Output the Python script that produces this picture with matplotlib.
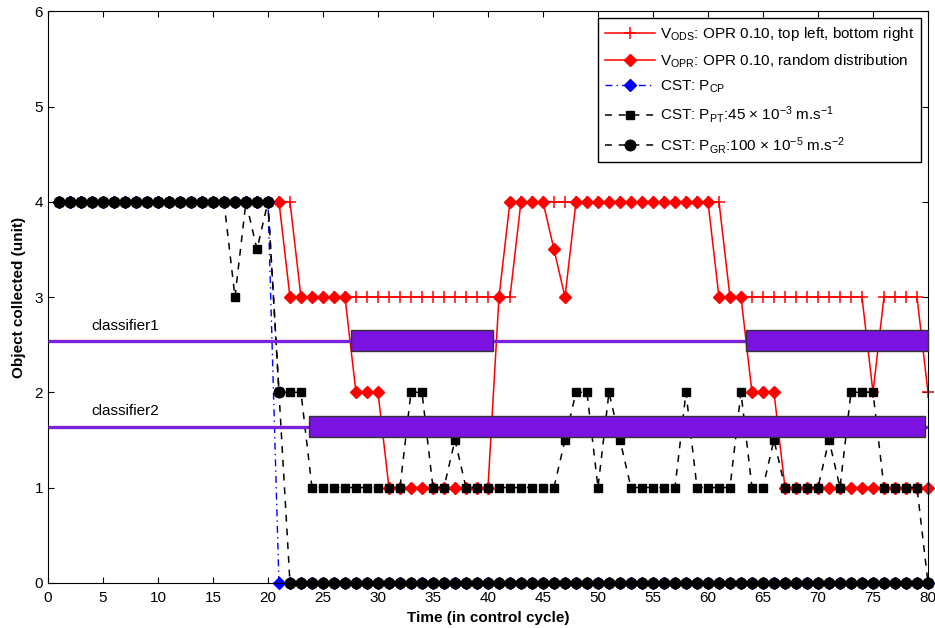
import numpy as np
import matplotlib
matplotlib.use("Agg")
import matplotlib.pyplot as plt

plt.rcParams['font.family'] = ['Liberation Sans', 'DejaVu Sans']
plt.rcParams['mathtext.fontset'] = 'custom'
plt.rcParams['mathtext.rm'] = 'Liberation Sans'
plt.rcParams['mathtext.it'] = 'Liberation Sans:italic'
plt.rcParams['mathtext.bf'] = 'Liberation Sans:bold'
plt.rcParams['font.size'] = 11

# control cycles
t = np.arange(1, 81)

# V_ODS: OPR 0.10, top left, bottom right
v_ods = [4, 4, 4, 4, 4, 4, 4, 4, 4, 4, 4, 4, 4, 4, 4, 4, 4, 4, 4, 4,
         4, 4, 3, 3, 3, 3, 3, 3, 3, 3, 3, 3, 3, 3, 3, 3, 3, 3, 3, 3,
         3, 3, 4, 4, 4, 4, 4, 4, 4, 4, 4, 4, 4, 4, 4, 4, 4, 4, 4, 4,
         4, 3, 3, 3, 3, 3, 3, 3, 3, 3, 3, 3, 3, 3, 2, 3, 3, 3, 3, 2]
# V_OPR: OPR 0.10, random distribution
v_opr = [4, 4, 4, 4, 4, 4, 4, 4, 4, 4, 4, 4, 4, 4, 4, 4, 4, 4, 4, 4,
         4, 3, 3, 3, 3, 3, 3, 2, 2, 2, 1, 1, 1, 1, 1, 1, 1, 1, 1, 1,
         3, 4, 4, 4, 4, 3.5, 3, 4, 4, 4, 4, 4, 4, 4, 4, 4, 4, 4, 4, 4,
         3, 3, 3, 2, 2, 2, 1, 1, 1, 1, 1, 1, 1, 1, 1, 1, 1, 1, 1, 1]
# CST: P_CP
p_cp = [4, 4, 4, 4, 4, 4, 4, 4, 4, 4, 4, 4, 4, 4, 4, 4, 4, 4, 4, 4,
        0, 0, 0, 0, 0, 0, 0, 0, 0, 0, 0, 0, 0, 0, 0, 0, 0, 0, 0, 0,
        0, 0, 0, 0, 0, 0, 0, 0, 0, 0, 0, 0, 0, 0, 0, 0, 0, 0, 0, 0,
        0, 0, 0, 0, 0, 0, 0, 0, 0, 0, 0, 0, 0, 0, 0, 0, 0, 0, 0, 0]
# CST: P_PT
p_pt = [4, 4, 4, 4, 4, 4, 4, 4, 4, 4, 4, 4, 4, 4, 4, 4, 3, 4, 3.5, 4,
        2, 2, 2, 1, 1, 1, 1, 1, 1, 1, 1, 1, 2, 2, 1, 1, 1.5, 1, 1, 1,
        1, 1, 1, 1, 1, 1, 1.5, 2, 2, 1, 2, 1.5, 1, 1, 1, 1, 1, 2, 1, 1,
        1, 1, 2, 1, 1, 1.5, 1, 1, 1, 1, 1.5, 1, 2, 2, 2, 1, 1, 1, 1, 0]
# CST: P_GR
p_gr = [4, 4, 4, 4, 4, 4, 4, 4, 4, 4, 4, 4, 4, 4, 4, 4, 4, 4, 4, 4,
        2, 0, 0, 0, 0, 0, 0, 0, 0, 0, 0, 0, 0, 0, 0, 0, 0, 0, 0, 0,
        0, 0, 0, 0, 0, 0, 0, 0, 0, 0, 0, 0, 0, 0, 0, 0, 0, 0, 0, 0,
        0, 0, 0, 0, 0, 0, 0, 0, 0, 0, 0, 0, 0, 0, 0, 0, 0, 0, 0, 0]

labels = [r'V$_{\mathrm{ODS}}$: OPR 0.10, top left, bottom right',
          r'V$_{\mathrm{OPR}}$: OPR 0.10, random distribution',
          r'CST: P$_{\mathrm{CP}}$',
          r'CST: P$_{\mathrm{PT}}$:45 × 10$^{-3}$ m.s$^{-1}$',
          r'CST: P$_{\mathrm{GR}}$:100 × 10$^{-5}$ m.s$^{-2}$']

# classifier bands (level, intervals in control cycles)
clf_names = ['classifier1', 'classifier2']
clf_level = [2.54, 1.64]
clf_spans = [[(27.55, 40.5), (63.5, 80.0)], [(23.75, 79.7)]]
clf_height = 0.22

fig = plt.figure(figsize=(9.35, 6.28), dpi=100)
ax = fig.add_axes([0.0513, 0.072, 0.9412, 0.910])

ax.plot(t, v_ods, '-', color='red', lw=1.1, marker='+', ms=8, mew=1.1,
        label=labels[0], clip_on=False, zorder=2)
ax.plot(t, v_opr, '-', color='red', lw=1.1, marker='D', ms=6.2,
        label=labels[1], clip_on=False, zorder=2)
ax.plot(t, p_cp, color='blue', lw=1.0, dashes=(5, 3, 1, 3), marker='D', ms=6.2,
        label=labels[2], clip_on=False, zorder=2)
ax.plot(t, p_pt, color='black', lw=1.1, dashes=(4.5, 4.5), marker='s', ms=6.3,
        label=labels[3], clip_on=False, zorder=2)
ax.plot(t, p_gr, color='black', lw=1.1, dashes=(4.5, 4.5), marker='o', ms=7.6,
        label=labels[4], clip_on=False, zorder=2)

for name, lev, spans in zip(clf_names, clf_level, clf_spans):
    ax.plot([0, 80], [lev, lev], color='#7d22dc', lw=2.4, zorder=3,
            solid_capstyle='butt')
    for a, b in spans:
        ax.barh(lev, b - a, left=a, height=clf_height, color='#7a12e2',
                edgecolor='#333333', lw=1.0, zorder=4, clip_on=False)
    ax.text(7.0, lev + 0.16, name, ha='center', va='center', fontsize=11,
            zorder=5)

ax.set_xlim(0, 80)
ax.set_ylim(0, 6)
ax.set_xticks(np.arange(0, 81, 5))
ax.set_yticks(np.arange(0, 7, 1))
ax.tick_params(direction='in', length=4, top=True, right=True, labelsize=11)
ax.tick_params(axis='x', pad=6)
ax.set_xlabel('Time (in control cycle)', fontweight='bold', fontsize=11,
              labelpad=4)
ax.set_ylabel('Object collected (unit)', fontweight='bold', fontsize=11,
              labelpad=6)

leg = ax.legend(loc='upper right', numpoints=1, handlelength=3.3,
                fancybox=False, framealpha=1, edgecolor='black',
                fontsize=11, labelspacing=0.6, borderaxespad=0.45,
                handletextpad=0.3, borderpad=0.45)
leg.get_frame().set_linewidth(1.0)

fig.savefig('out.png', dpi=100)
